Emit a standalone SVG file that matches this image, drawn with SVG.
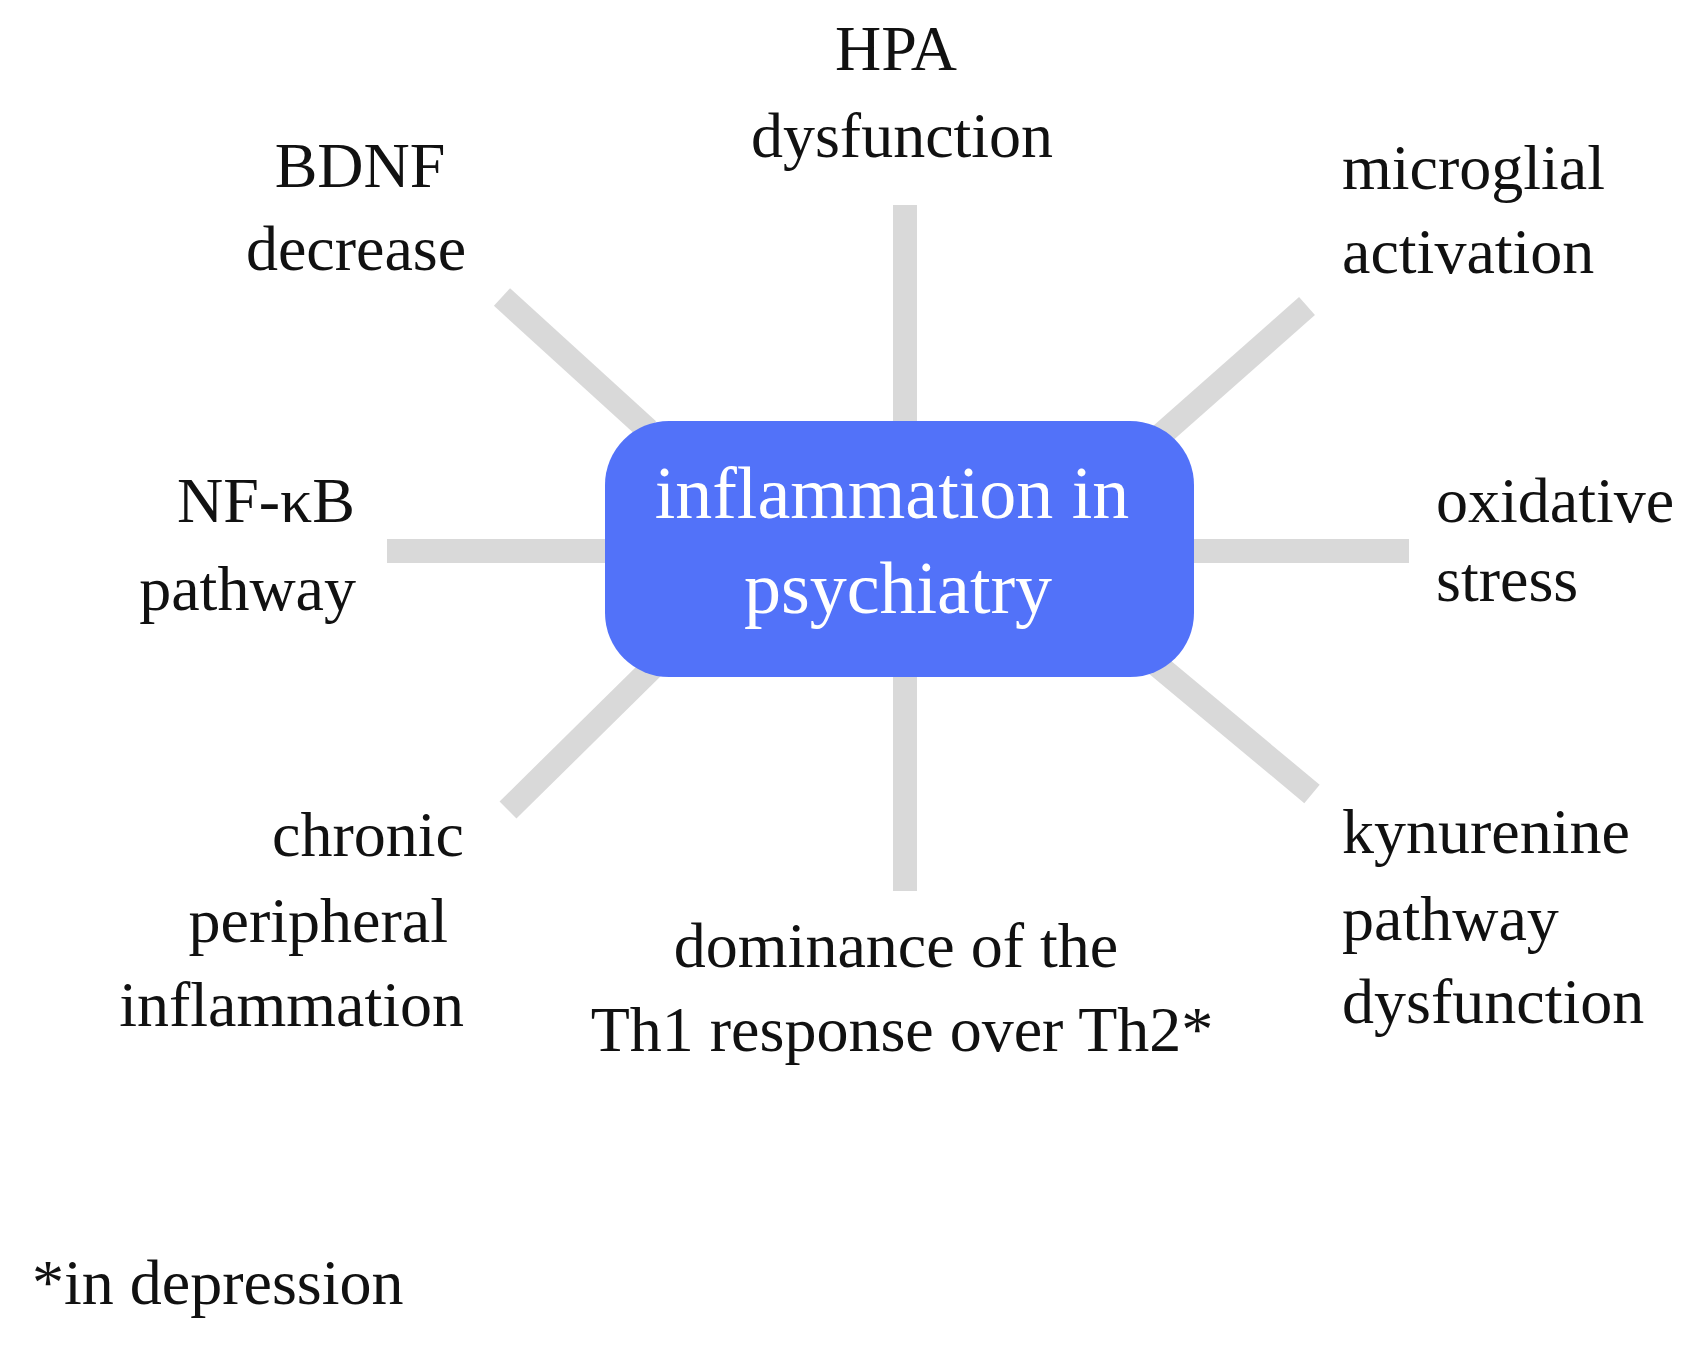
<svg xmlns="http://www.w3.org/2000/svg" width="1694" height="1353" viewBox="0 0 1694 1353">
<style>
.c{stroke:#d9d9d9;stroke-width:24;fill:none}
text{font-family:"Liberation Serif","Times New Roman",serif;font-size:64px;fill:#111}
.m{text-anchor:middle}.e{text-anchor:end}
.w{fill:#fff;font-size:74px;text-anchor:middle}
</style>
<rect width="1694" height="1353" fill="#fff"/>
<g id="connectors">
<line class="c" x1="905" y1="205" x2="905" y2="425"/>
<line class="c" x1="905" y1="670" x2="905" y2="891"/>
<line class="c" x1="387" y1="551" x2="605" y2="551"/>
<line class="c" x1="1194" y1="551" x2="1409" y2="551"/>
<line class="c" x1="502" y1="297" x2="648" y2="430"/>
<line class="c" x1="1307" y1="306" x2="1161" y2="435"/>
<line class="c" x1="508" y1="810" x2="653" y2="667"/>
<line class="c" x1="1312" y1="794" x2="1156" y2="664"/>
</g>
<g id="center"><rect x="605" y="421" width="589" height="256" rx="64" fill="#5272f9"/>
<text class="w" x="892" y="518">inflammation in</text><text class="w" x="898" y="613">psychiatry</text></g>
<g id="hpa"><text class="m" x="896" y="70">HPA</text><text class="m" x="902" y="157">dysfunction</text></g>
<g id="bdnf"><text class="m" x="360" y="187">BDNF</text><text class="m" x="356" y="270">decrease</text></g>
<g id="microglial"><text x="1342" y="189">microglial</text><text x="1342" y="273">activation</text></g>
<g id="nfkb"><text class="e" x="355" y="522">NF-κB</text><text class="e" x="356" y="610">pathway</text></g>
<g id="oxidative"><text x="1436" y="522">oxidative</text><text x="1436" y="601">stress</text></g>
<g id="chronic"><text class="e" x="464" y="856">chronic</text><text class="e" x="448" y="942">peripheral</text><text class="e" x="464" y="1026">inflammation</text></g>
<g id="kynurenine"><text x="1342" y="853">kynurenine</text><text x="1342" y="940">pathway</text><text x="1342" y="1023">dysfunction</text></g>
<g id="th1"><text class="m" x="896" y="967">dominance of the</text><text class="m" x="902" y="1051">Th1 response over Th2*</text></g>
<g id="note"><text x="32" y="1304">*in depression</text></g>
</svg>
